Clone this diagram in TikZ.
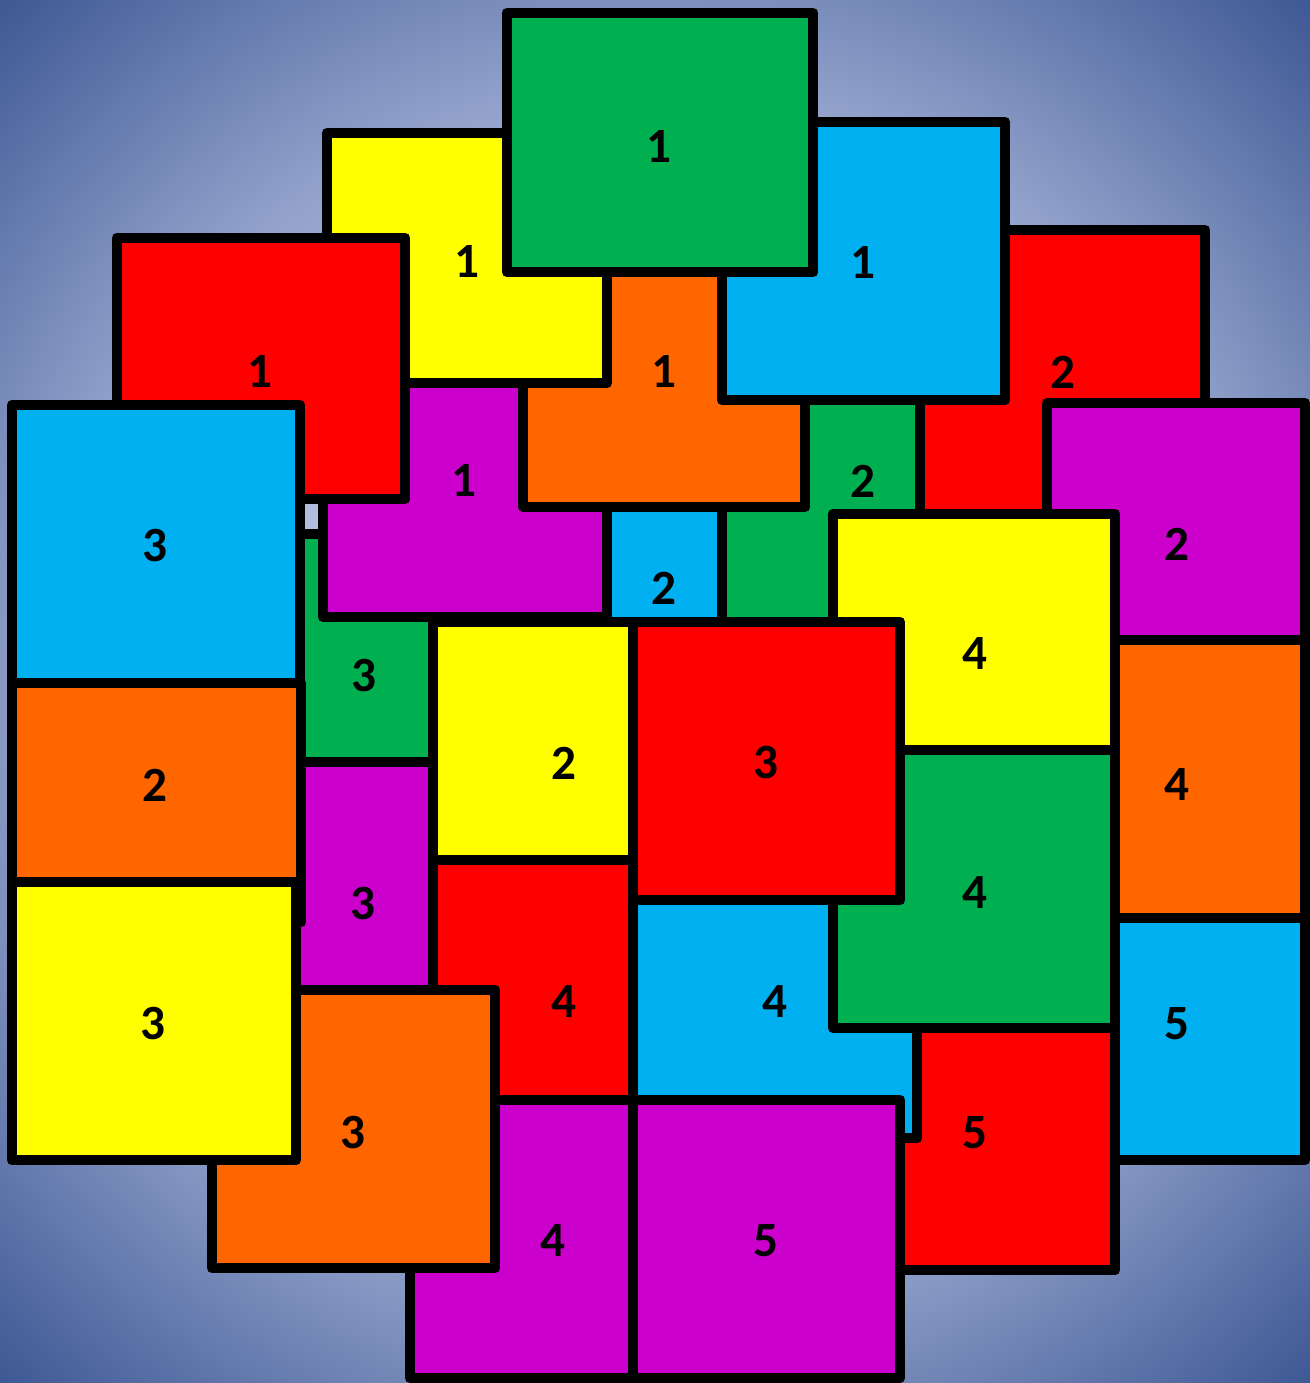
\documentclass[tikz,border=0pt]{standalone}
\usepackage{fontspec}
\setmainfont{Carlito}

\definecolor{tgreen}{HTML}{00B050}
\definecolor{tyellow}{HTML}{FFFF00}
\definecolor{tblue}{HTML}{00B0F0}
\definecolor{tred}{HTML}{FF0000}
\definecolor{torange}{HTML}{FF6600}
\definecolor{tpurple}{HTML}{CC00CC}
\definecolor{bgin}{RGB}{200,209,235}
\definecolor{bgmid}{RGB}{178,190,222}
\definecolor{bgsoft}{RGB}{146,162,203}
\definecolor{bgout}{RGB}{62,88,148}
% glow sized for the whole sheet (corner at 270bp)
\pgfdeclareradialshading{bgglow}{\pgfpoint{0bp}{0bp}}{color(0bp)=(bgin); color(107bp)=(bgmid); color(171bp)=(bgsoft); color(270bp)=(bgout)}

\begin{document}
\begin{tikzpicture}[x=0.01cm, y=-0.01cm,
    tile/.style={draw=black, line width=3.1pt, line join=round},
    num/.style={font=\fontsize{14}{16}\selectfont\bfseries, inner sep=0pt},
  ]
  \useasboundingbox (0,0) rectangle (1309,1383);
  \node[inner sep=0pt] (glow) at (654.5,691.5) {\pgfuseshading{bgglow}};

  % back layer
  \draw[tile, fill=tgreen] (295,534) rectangle (433,762);
  \node[num] (grn3) at (364,676) {3};
  \draw[tile, fill=tpurple] (295,762) rectangle (433,990);
  \node[num] (pur3) at (363,904) {3};
  \draw[tile, fill=tpurple] (323,347) rectangle (607,617);
  \node[num] (pur1) at (464,481) {1};
  \draw[tile, fill=tgreen] (722,390) rectangle (920,622);
  \node[num] (grn2) at (863,481) {2};
  \draw[tile, fill=tblue] (607,480) rectangle (722,622);
  \node[num] (blu2) at (664,588) {2};
  \draw[tile, fill=torange] (523,237) rectangle (805,507);
  \node[num] (ora1) at (664,372) {1};
  \draw[tile, fill=tred] (920,230) rectangle (1205,514);
  \node[num] (red2) at (1063,372) {2};

  % top row
  \draw[tile, fill=tyellow] (327,133) rectangle (607,383);
  \node[num] (yel1) at (467,262) {1};
  \draw[tile, fill=tblue] (722,122) rectangle (1005,400);
  \node[num] (blu1) at (863,263) {1};
  \draw[tile, fill=tgreen] (507,13) rectangle (813,272);
  \node[num] (grn1) at (659,147) {1};
  \draw[tile, fill=tred] (117,238) rectangle (405,499);
  \node[num] (red1) at (260,372) {1};
  \draw[tile, fill=tblue] (12,405) rectangle (300,683);
  \node[num] (blu3) at (155,546) {3};

  % right column
  \draw[tile, fill=tpurple] (1047,403) rectangle (1305,640);
  \node[num] (pur2) at (1177,544) {2};
  \draw[tile, fill=torange] (1115,640) rectangle (1305,918);
  \node[num] (ora4) at (1177,785) {4};
  \draw[tile, fill=tblue] (1115,918) rectangle (1305,1160);
  \node[num] (blu5) at (1177,1024) {5};
  \draw[tile, fill=tred] (898,1028) rectangle (1115,1270);
  \node[num] (red5) at (975,1133) {5};
  \draw[tile, fill=tblue] (633,900) rectangle (917,1138);
  \node[num] (blu4) at (775,1002) {4};
  \draw[tile, fill=tgreen] (833,750) rectangle (1115,1028);
  \node[num] (grn4) at (975,893) {4};
  \draw[tile, fill=tyellow] (833,514) rectangle (1115,750);
  \node[num] (yel4) at (975,654) {4};

  % middle
  \draw[tile, fill=tyellow] (433,622) rectangle (633,860);
  \node[num] (yel2) at (564,763) {2};
  \draw[tile, fill=tred] (433,860) rectangle (633,1100);
  \node[num] (red4) at (564,1002) {4};
  \draw[tile, fill=tred] (633,622) rectangle (900,900);
  \node[num] (red3) at (766,763) {3};
  \draw[tile, fill=tpurple] (633,1100) rectangle (900,1378);
  \node[num] (pur5) at (766,1241) {5};
  \draw[tile, fill=tpurple] (410,1100) rectangle (633,1378);
  \node[num] (pur4) at (553,1241) {4};

  % left column
  \draw[tile, fill=torange] (212,990) rectangle (495,1268);
  \node[num] (ora3) at (353,1133) {3};
  \draw[tile, fill=torange] (12,683) rectangle (301,922);
  \node[num] (ora2) at (155,785) {2};
  \draw[tile, fill=tyellow] (12,882) rectangle (296,1160);
  \node[num] (yel3) at (153,1024) {3};
\end{tikzpicture}
\end{document}
